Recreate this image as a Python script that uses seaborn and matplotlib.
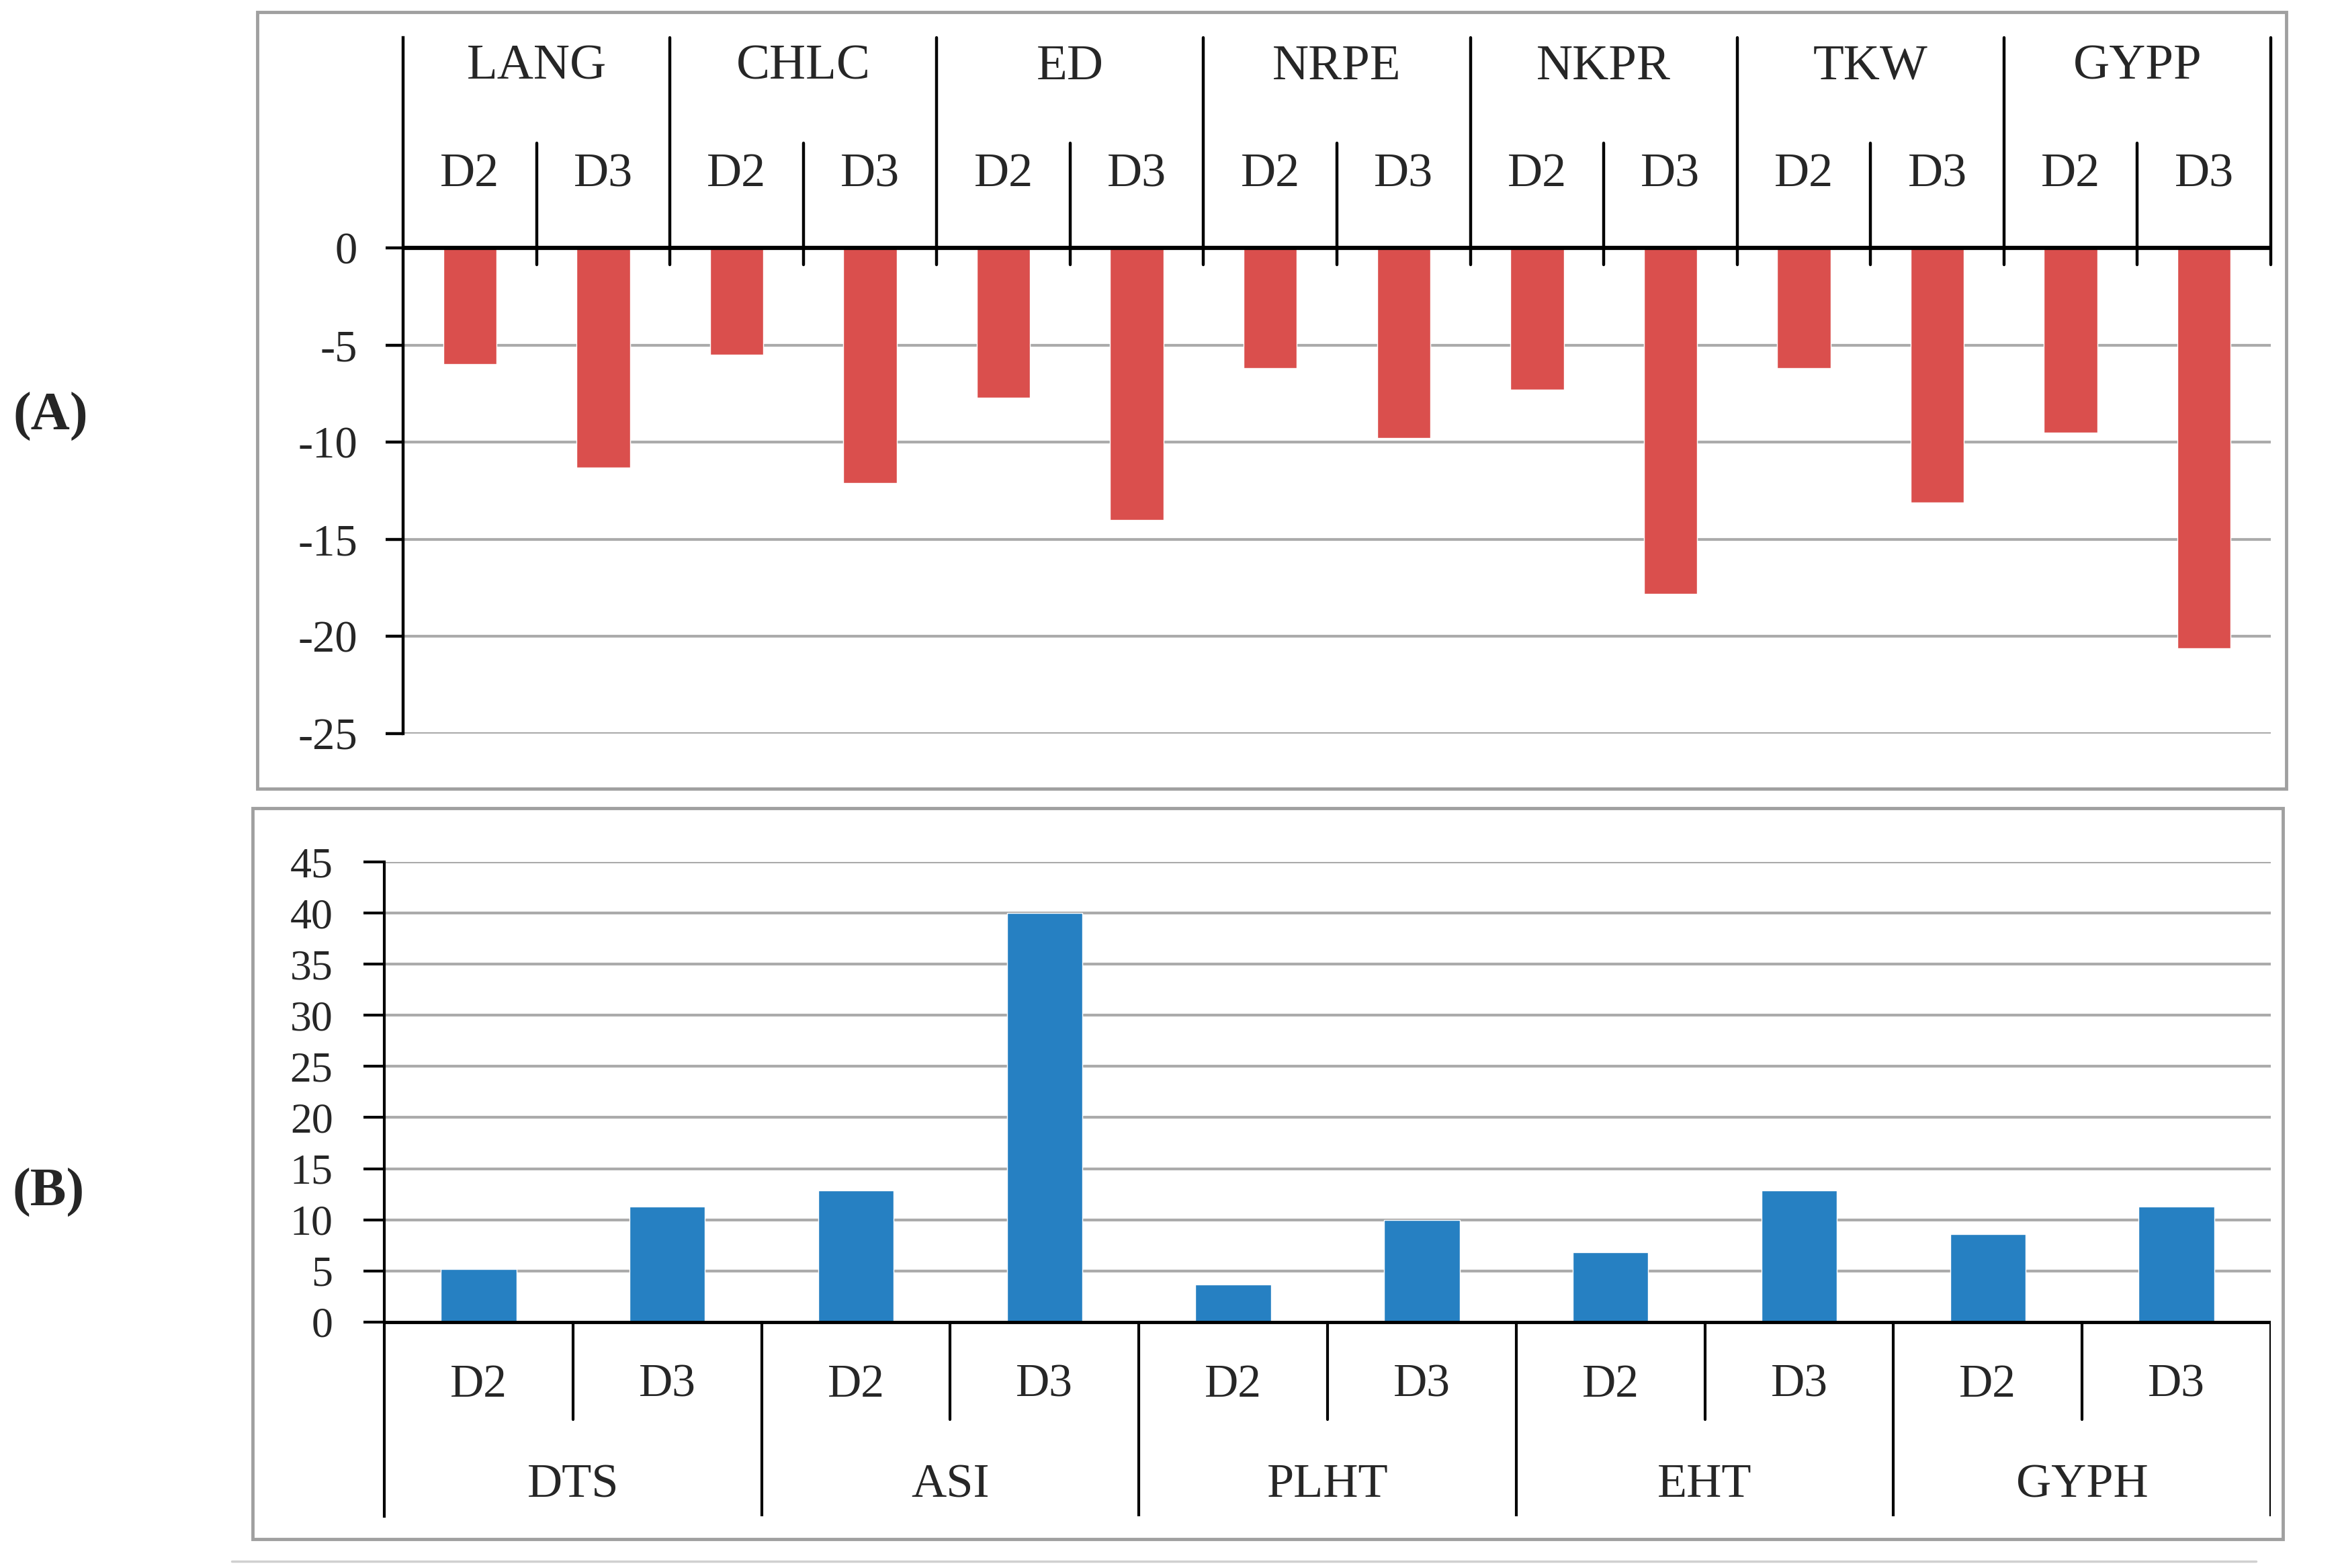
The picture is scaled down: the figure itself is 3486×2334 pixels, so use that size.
import matplotlib
matplotlib.use("Agg")
import matplotlib.pyplot as plt
import seaborn as sns
import pandas as pd
from matplotlib.patches import Rectangle
from matplotlib.lines import Line2D

# panel A data
traits_a = ['LANG', 'CHLC', 'ED', 'NRPE', 'NKPR', 'TKW', 'GYPP']
a_d2 = [-6.0, -5.5, -7.7, -6.2, -7.3, -6.2, -9.5]
a_d3 = [-11.3, -12.1, -14.0, -9.8, -17.8, -13.1, -20.6]

# panel B data
traits_b = ['DTS', 'ASI', 'PLHT', 'EHT', 'GYPH']
b_d2 = [5.2, 12.9, 3.7, 6.8, 8.6]
b_d3 = [11.3, 40.0, 10.0, 12.9, 11.3]

levels = ['D2', 'D3']

sns.set_style("white")
plt.rcParams['font.family'] = ['Liberation Serif', 'DejaVu Serif']
plt.rcParams['axes.unicode_minus'] = False

W, H = 3487, 2334
fig = plt.figure(figsize=(W / 100, H / 100), dpi=100)


def fx(px):
    return px / W


def fy(py):
    return 1 - py / H


def long_table(traits, d2, d3):
    rows = []
    for t, v2, v3 in zip(traits, d2, d3):
        rows.append((f"{t} D2", v2))
        rows.append((f"{t} D3", v3))
    return pd.DataFrame(rows, columns=['slot', 'value'])


grid_col = '#ABABAB'

# ---------- panel A ----------
axA = fig.add_axes([fx(600), fy(1092), fx(3380) - fx(600), (1092 - 56) / H])
dfa = long_table(traits_a, a_d2, a_d3)
sns.barplot(data=dfa, x='slot', y='value', color='#DA4F4D', saturation=1,
            width=0.4, ax=axA, zorder=3)
nA = len(dfa)
topA = 10.82
axA.set_xlim(-0.5, nA - 0.5)
axA.set_ylim(-25, topA)
axA.set_yticks([0, -5, -10, -15, -20, -25])
axA.set_xticks([])
axA.set_xlabel('')
axA.set_ylabel('')
for s in ['top', 'right', 'bottom']:
    axA.spines[s].set_visible(False)
axA.spines['left'].set_linewidth(3.2)
axA.spines['left'].set_color('black')
axA.tick_params(axis='y', direction='out', length=19, width=3.2, pad=30,
                labelsize=48, left=True, color='black')
for y in [-5, -10, -15, -20, -25]:
    axA.axhline(y, color=grid_col, lw=3, zorder=1)
axA.axhline(0, color='black', lw=4.5, zorder=4)
for i in range(len(traits_a)):
    xg = 2 * i + 1.5
    axA.plot([xg, xg], [-0.85, topA], color='black', lw=3.2, zorder=4,
             clip_on=False)
    axA.plot([2 * i + 0.5] * 2, [-0.85, 5.39], color='black', lw=3.2,
             zorder=4, clip_on=False)
    axA.text(2 * i + 0.5, 9.3, traits_a[i], ha='center', va='center',
             fontsize=54)
    for j, lv in enumerate(levels):
        axA.text(2 * i + j, 3.77, lv, ha='center', va='center', fontsize=52)

# ---------- panel B ----------
axB = fig.add_axes([fx(572), fy(2257), fx(3380) - fx(572), (2257 - 1283) / H])
dfb = long_table(traits_b, b_d2, b_d3)
sns.barplot(data=dfb, x='slot', y='value', color='#2680C2', saturation=1,
            width=0.4, ax=axB, zorder=3)
nB = len(dfb)
axB.set_xlim(-0.5, nB - 0.5)
axB.set_ylim(-19, 45)
axB.set_yticks(list(range(0, 50, 5)))
axB.set_xticks([])
axB.set_xlabel('')
axB.set_ylabel('')
for s in ['top', 'right', 'bottom']:
    axB.spines[s].set_visible(False)
axB.spines['left'].set_bounds(-19, 45)
axB.spines['left'].set_linewidth(3)
axB.spines['left'].set_color('black')
axB.tick_params(axis='y', direction='out', length=22, width=3, pad=33,
                labelsize=46, left=True, color='black')
for y in range(5, 50, 5):
    axB.axhline(y, color=grid_col, lw=3, zorder=1)
axB.axhline(0, color='black', lw=3.5, zorder=4)
for i in range(len(traits_b)):
    xg = 2 * i + 1.5
    axB.plot([xg, xg], [0, -19], color='black', lw=3, zorder=4)
    axB.plot([2 * i + 0.5] * 2, [0, -9.53], color='black', lw=3, zorder=4)
    axB.text(2 * i + 0.5, -15.97, traits_b[i], ha='center', va='center',
             fontsize=52)
    for j, lv in enumerate(levels):
        axB.text(2 * i + j, -6.18, lv, ha='center', va='center', fontsize=50)

# ---------- frames and panel letters ----------
box_col = '#A0A0A0'
fig.add_artist(Rectangle((fx(383), fy(1174)), fx(3403) - fx(383),
                         (1174 - 18) / H, fill=False, edgecolor=box_col,
                         lw=3.5, transform=fig.transFigure))
fig.add_artist(Rectangle((fx(376), fy(2291)), fx(3398) - fx(376),
                         (2291 - 1203) / H, fill=False, edgecolor=box_col,
                         lw=3.5, transform=fig.transFigure))
fig.add_artist(Line2D([fx(345), fx(3358)], [fy(2324), fy(2324)],
                      color='#D0D0D0', lw=2.5, transform=fig.transFigure))

fig.text(fx(75), fy(620), '(A)', ha='center', va='center', fontsize=58,
         fontweight='bold')
fig.text(fx(72), fy(1775), '(B)', ha='center', va='center', fontsize=58,
         fontweight='bold')

fig.savefig('out.png', dpi=100, facecolor='white')
